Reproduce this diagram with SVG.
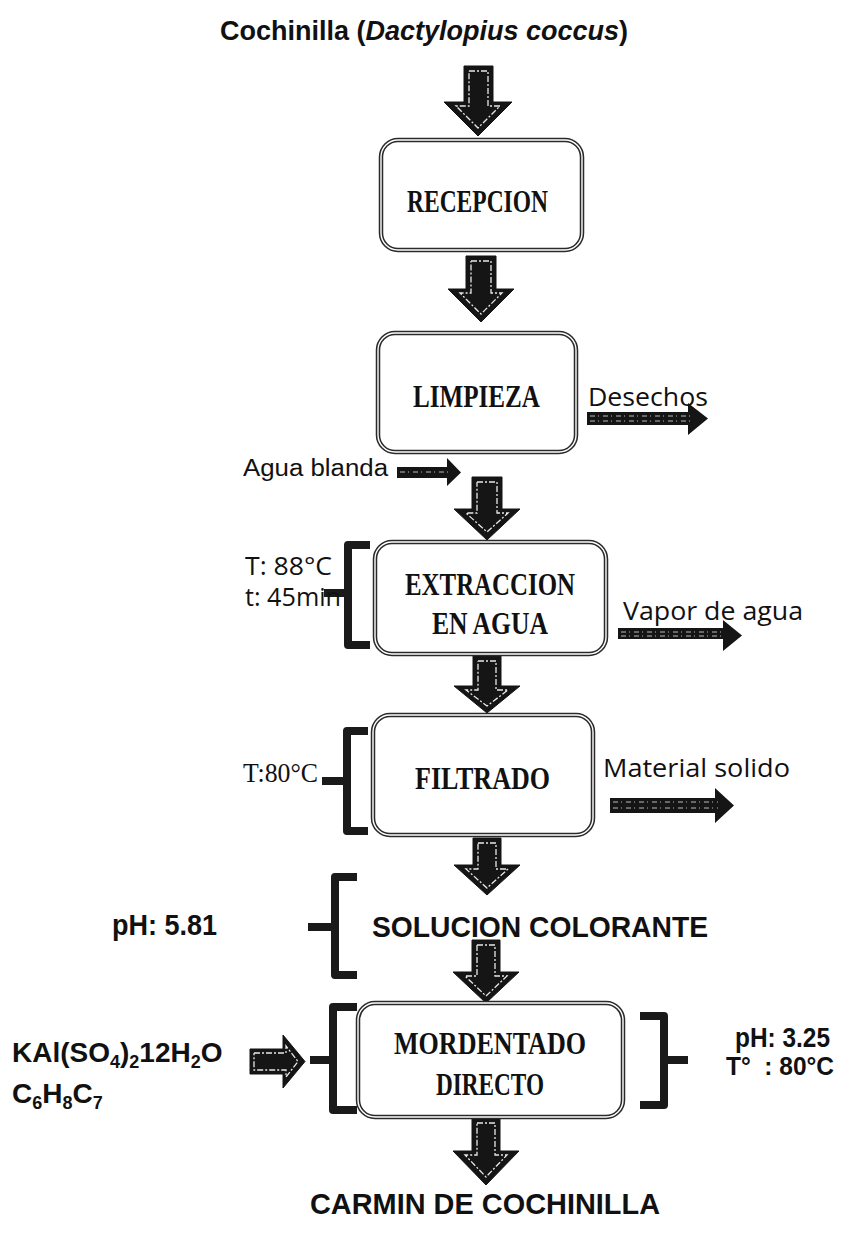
<svg xmlns="http://www.w3.org/2000/svg" width="846" height="1233" viewBox="0 0 846 1233">
<style>
.bg{fill:#fff}
.box{fill:#fff;stroke:#2a2a2a;stroke-width:4.5}
.boxin{fill:none;stroke:#fff;stroke-width:1.4}
.ar{fill:#151515;stroke:#151515;stroke-width:1;stroke-linejoin:miter}
.arin{fill:none;stroke:#e8e8e8;stroke-width:1.3;stroke-dasharray:6 2 2 2}
.sar{fill:#151515}
.sarin{fill:none;stroke:#bbb;stroke-width:1;stroke-dasharray:5 3 1 4}
.br{fill:none;stroke:#1a1a1a;stroke-width:8;stroke-linejoin:round}
.lbl{font-family:"Liberation Serif",serif;font-weight:bold;font-size:32px;fill:#111}
.cal{font-family:"Open Sans","Liberation Sans",sans-serif;font-size:25px;fill:#111}
.ar1{font-family:"Liberation Sans",Arial,sans-serif;fill:#111}
.bld{font-family:"Liberation Sans",Arial,sans-serif;font-weight:bold;fill:#111}
</style>
<rect class="bg" x="0" y="0" width="846" height="1233"/>

<g id="title">
<text class="bld" x="424" y="40" font-size="27" text-anchor="middle">Cochinilla (<tspan font-style="italic">Dactylopius coccus</tspan>)</text>
</g>

<g id="connectors">
<!-- vertical block arrows -->
<polygon class="ar" points="464,66 493,66 493,102 512,102 478,136 444,102 464,102"/>
<polyline class="arin" points="469,71 488,71 488,106 500,106 478,128 456,106 469,106 469,71"/>
<polygon class="ar" points="466,256 496,256 496,289 514,289 481,322 448,289 466,289"/>
<polyline class="arin" points="471,261 491,261 491,293 502,293 481,314 460,293 471,293 471,261"/>
<polygon class="ar" points="472,477 502,477 502,509 520,509 487,540 454,509 472,509"/>
<polyline class="arin" points="477,482 497,482 497,513 508,513 487,532 466,513 477,513 477,482"/>
<polygon class="ar" points="473,656 501,656 501,686 520,686 487,713 454,686 473,686"/>
<polyline class="arin" points="478,661 496,661 496,690 508,690 487,706 466,690 478,690 478,661"/>
<polygon class="ar" points="473,838 501,838 501,865 520,865 487,895 454,865 473,865"/>
<polyline class="arin" points="478,843 496,843 496,869 508,869 487,888 466,869 478,869 478,843"/>
<polygon class="ar" points="472,940 500,940 500,972 519,972 486,1003 453,972 472,972"/>
<polyline class="arin" points="477,945 495,945 495,976 507,976 486,996 465,976 477,976 477,945"/>
<polygon class="ar" points="472,1118 500,1118 500,1151 519,1151 486,1185 453,1151 472,1151"/>
<polyline class="arin" points="477,1123 495,1123 495,1155 507,1155 486,1177 465,1155 477,1155 477,1123"/>
<!-- side arrows -->
<polygon class="sar" points="587,412 688,412 688,403 708,418.5 688,435 688,425 587,425"/>
<line class="sarin" x1="590" y1="416" x2="690" y2="416"/>
<line class="sarin" x1="590" y1="421" x2="690" y2="421"/>
<polygon class="sar" points="397,467 447,467 447,458 461,472.5 447,486 447,478 397,478"/>
<line class="sarin" x1="400" y1="472" x2="450" y2="472"/>
<polygon class="sar" points="618,628 723,628 723,620 742,635.5 723,651 723,639 618,639"/>
<line class="sarin" x1="621" y1="632" x2="725" y2="632"/>
<line class="sarin" x1="621" y1="636" x2="725" y2="636"/>
<polygon class="sar" points="610,798 715,798 715,788 734,805.5 715,823 715,813 610,813"/>
<line class="sarin" x1="613" y1="802" x2="718" y2="802"/>
<line class="sarin" x1="613" y1="808" x2="718" y2="808"/>
<polygon class="ar" points="250,1049 283,1049 283,1035 305,1061.5 283,1088 283,1074 250,1074"/>
<polyline class="arin" points="254,1053 286,1053 286,1046 298,1061.5 286,1077 286,1070 254,1070 254,1053"/>
<!-- brackets -->
<path class="br" d="M370,545 H348 V645 H370 M348,593 H324"/>
<path class="br" d="M368,731 H347 V831 H368 M347,781 H322"/>
<path class="br" d="M357,877 H335 V975 H357 M335,927 H308"/>
<path class="br" d="M357,1007 H333 V1110 H357 M333,1060 H310"/>
<path class="br" d="M640,1016 H664 V1105 H640 M664,1060 H688"/>
</g>

<g id="recepcion">
<rect class="box" x="381" y="140" width="201" height="110" rx="17"/>
<rect class="boxin" x="381" y="140" width="201" height="110" rx="17"/>
<text class="lbl" x="407" y="212" textLength="141" lengthAdjust="spacingAndGlyphs">RECEPCION</text>
</g>

<g id="limpieza">
<rect class="box" x="378" y="333" width="198" height="119" rx="17"/>
<rect class="boxin" x="378" y="333" width="198" height="119" rx="17"/>
<text class="lbl" x="413" y="407" textLength="127" lengthAdjust="spacingAndGlyphs">LIMPIEZA</text>
</g>

<g id="desechos">
<text class="cal" x="588" y="406" textLength="120" lengthAdjust="spacingAndGlyphs">Desechos</text>
</g>

<g id="agua-blanda">
<text class="ar1" x="243" y="476" font-size="23" textLength="145" lengthAdjust="spacingAndGlyphs">Agua blanda</text>
</g>

<g id="extraccion">
<rect class="box" x="375" y="542" width="231" height="112" rx="17"/>
<rect class="boxin" x="375" y="542" width="231" height="112" rx="17"/>
<text class="lbl" x="405" y="595" textLength="170" lengthAdjust="spacingAndGlyphs">EXTRACCION</text>
<text class="lbl" x="432" y="634" textLength="116" lengthAdjust="spacingAndGlyphs">EN AGUA</text>
</g>

<g id="extraccion-cond">
<text class="cal" x="245" y="575" font-size="23" textLength="87" lengthAdjust="spacingAndGlyphs">T: 88°C</text>
<text class="cal" x="245" y="606" font-size="23" textLength="96" lengthAdjust="spacingAndGlyphs">t: 45min</text>
</g>

<g id="vapor">
<text class="cal" x="623" y="620" textLength="180" lengthAdjust="spacingAndGlyphs">Vapor de agua</text>
</g>

<g id="filtrado">
<rect class="box" x="373" y="715" width="220" height="120" rx="17"/>
<rect class="boxin" x="373" y="715" width="220" height="120" rx="17"/>
<text class="lbl" x="415" y="789" textLength="135" lengthAdjust="spacingAndGlyphs">FILTRADO</text>
</g>

<g id="filtrado-cond">
<text x="243" y="782" font-family="Liberation Serif, serif" font-size="27" fill="#111" textLength="75" lengthAdjust="spacingAndGlyphs">T:80°C</text>
</g>

<g id="material">
<text class="cal" x="603" y="777" textLength="187" lengthAdjust="spacingAndGlyphs">Material solido</text>
</g>

<g id="solucion">
<text class="bld" x="372" y="937" font-size="30" textLength="336" lengthAdjust="spacingAndGlyphs">SOLUCION COLORANTE</text>
</g>

<g id="solucion-ph">
<text class="bld" x="112" y="935" font-size="29" textLength="105" lengthAdjust="spacingAndGlyphs">pH: 5.81</text>
</g>

<g id="mordentado">
<rect class="box" x="358" y="1003" width="265" height="114" rx="17"/>
<rect class="boxin" x="358" y="1003" width="265" height="114" rx="17"/>
<text class="lbl" x="394" y="1054" textLength="192" lengthAdjust="spacingAndGlyphs">MORDENTADO</text>
<text class="lbl" x="436" y="1095" textLength="108" lengthAdjust="spacingAndGlyphs">DIRECTO</text>
</g>

<g id="reactivos">
<text class="bld" x="12" y="1062" font-size="28">KAl(SO<tspan font-size="18" dy="6">4</tspan><tspan dy="-6">)</tspan><tspan font-size="18" dy="6">2</tspan><tspan dy="-6">12H</tspan><tspan font-size="18" dy="6">2</tspan><tspan dy="-6">O</tspan></text>
<text class="bld" x="12" y="1103" font-size="28">C<tspan font-size="18" dy="6">6</tspan><tspan dy="-6">H</tspan><tspan font-size="18" dy="6">8</tspan><tspan dy="-6">C</tspan><tspan font-size="18" dy="6">7</tspan></text>
</g>

<g id="mordentado-cond">
<text class="bld" x="735" y="1047" font-size="28" textLength="95" lengthAdjust="spacingAndGlyphs">pH: 3.25</text>
<text class="bld" x="726" y="1075" font-size="26" textLength="108" lengthAdjust="spacingAndGlyphs" xml:space="preserve">T°  : 80°C</text>
</g>

<g id="carmin">
<text class="bld" x="485" y="1214" font-size="30" text-anchor="middle" textLength="350" lengthAdjust="spacingAndGlyphs">CARMIN DE COCHINILLA</text>
</g>
</svg>
